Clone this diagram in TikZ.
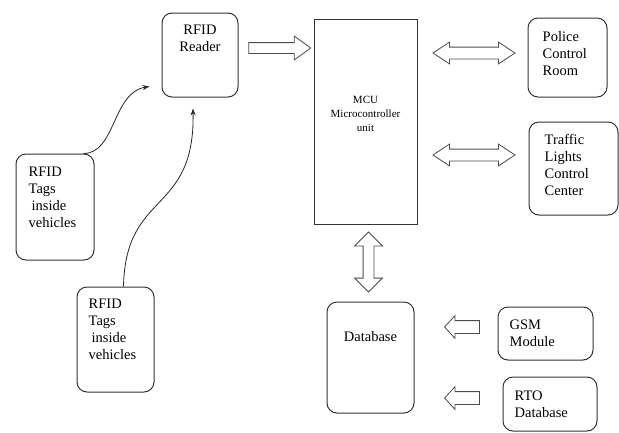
\documentclass[tikz,border=0pt]{standalone}
\usepackage{fontspec}
\setmainfont{LiberationSerif}[Extension=.ttf,UprightFont=*-Regular,BoldFont=*-Bold,ItalicFont=*-Italic,BoldItalicFont=*-BoldItalic]
\usetikzlibrary{arrows.meta,shapes.arrows,calc}

\begin{document}
\begin{tikzpicture}[
  x=1pt,y=-1pt,
  box/.style={draw=black!80,line width=1pt,rounded corners=10pt,inner sep=0pt},
  txt/.style={inner sep=0pt,align=left,font=\rmfamily\fontsize{14.5}{17}\selectfont},
  arrow/.style={-{Stealth[length=7pt,width=5pt]},line width=0.8pt,draw=black!85},
  harrow/.style={draw=black!70,line width=0.8pt,fill=white,single arrow,inner xsep=0pt,single arrow head indent=0pt},
  darrow/.style={draw=black!70,line width=0.8pt,fill=white,double arrow,inner xsep=0pt,double arrow head indent=0pt}
]
\useasboundingbox (0,0) rectangle (619,432);
\node[box,minimum width=76pt,minimum height=84pt] (reader) at (200,55) {};
\node[draw=black!80,line width=1pt,minimum width=103pt,minimum height=205pt] (mcu) at (365.5,121.5) {};
\node[box,minimum width=79pt,minimum height=79pt] (police) at (567.5,57.5) {};
\node[box,minimum width=89pt,minimum height=93pt] (traffic) at (573.5,168.5) {};
\node[box,minimum width=87pt,minimum height=111pt] (db) at (370.5,357.5) {};
\node[box,minimum width=95pt,minimum height=53pt] (gsm) at (545.5,333.5) {};
\node[box,minimum width=94pt,minimum height=54pt] (rto) at (550,404) {};
\node[box,minimum width=78pt,minimum height=106pt] (tag1) at (55,207) {};
\node[box,minimum width=77pt,minimum height=105pt] (tag2) at (115.5,339.5) {};

% box texts
\node[txt,anchor=north,align=center] (reader-txt) at ([yshift=-12pt]reader.north) {RFID\\Reader};
\node[txt,anchor=north,align=center,font=\rmfamily\fontsize{11}{14}\selectfont] (mcu-txt) at ([yshift=-78pt]mcu.north) {MCU\\Microcontroller\\unit};
\node[txt,anchor=north west] (police-txt) at ([xshift=15pt,yshift=-14pt]police.north west) {Police\\Control\\Room};
\node[txt,anchor=north west] (traffic-txt) at ([xshift=16pt,yshift=-13pt]traffic.north west) {Traffic\\Lights\\Control\\Center};
\node[txt,anchor=north] (db-txt) at ([yshift=-30pt]db.north) {Database};
\node[txt,anchor=north west] (gsm-txt) at ([xshift=12pt,yshift=-13pt]gsm.north west) {GSM\\Module};
\node[txt,anchor=north west] (rto-txt) at ([xshift=12pt,yshift=-14pt]rto.north west) {RTO\\Database};
\node[txt,anchor=north west] (tag1-txt) at ([xshift=13pt,yshift=-13pt]tag1.north west) {RFID\\Tags\\\hspace{3pt}inside\\vehicles};
\node[txt,anchor=north west] (tag2-txt) at ([xshift=12pt,yshift=-12pt]tag2.north west) {RFID\\Tags\\\hspace{3pt}inside\\vehicles};

% hollow arrows
\node[harrow,minimum height=62pt,inner ysep=5pt,single arrow head extend=6.5pt,single arrow tip angle=72] (a-reader) at ($(reader.east)!0.5!(mcu.west |- reader.east)+(0,-7)$) {};
\node[darrow,minimum height=82pt,inner ysep=5.5pt,double arrow head extend=5pt,double arrow tip angle=67] (a-police) at ($(mcu.east |- police.west)!0.5!(police.west)+(1.5,-4.5)$) {};
\node[darrow,minimum height=82pt,inner ysep=5.5pt,double arrow head extend=5pt,double arrow tip angle=67] (a-traffic) at ($(mcu.east |- traffic.west)!0.5!(traffic.west)+(1,-13.5)$) {};
\node[darrow,rotate=90,minimum height=60pt,inner ysep=5pt,double arrow head extend=8.5pt,double arrow tip angle=90] (a-db) at ($(mcu.south)!0.5!(mcu.south |- db.north)+(3,-1)$) {};
\node[harrow,rotate=180,minimum height=35pt,inner ysep=6pt,single arrow head extend=5pt,single arrow tip angle=95] (a-gsm) at ($(gsm.west)+(-32.5,-6.5)$) {};
\node[harrow,rotate=180,minimum height=35pt,inner ysep=6pt,single arrow head extend=5pt,single arrow tip angle=95] (a-rto) at ($(rto.west)+(-37.5,-6)$) {};

% tags to reader
\coordinate (in1) at ([xshift=-12pt,yshift=11pt]reader.south west);
\coordinate (in2) at ([xshift=-7pt,yshift=-11pt]reader.south);
\draw[arrow] ([xshift=-11pt]tag1.north east) .. controls +(32,0) and +(-37,6) .. (in1);
\draw[arrow] ([xshift=8pt]tag2.north) .. controls +(2,-97) and +(2,107) .. (in2);
\end{tikzpicture}
\end{document}
